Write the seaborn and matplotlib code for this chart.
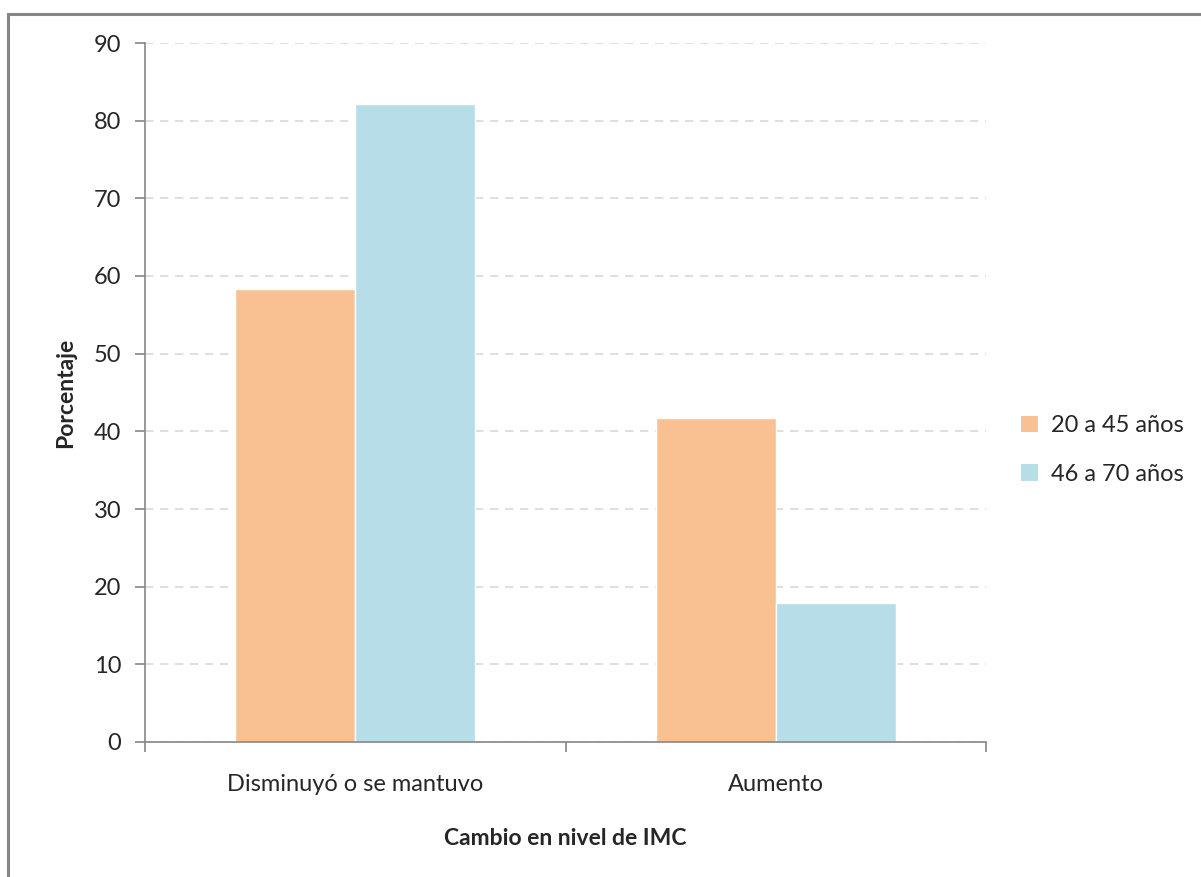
import matplotlib
matplotlib.use("Agg")
import matplotlib.pyplot as plt
import seaborn as sns
import pandas as pd
from matplotlib.patches import Rectangle, Patch

categories = ["Disminuyó o se mantuvo", "Aumento"]
groups = ["20 a 45 años", "46 a 70 años"]
values_20_45 = [58.3, 41.7]
values_46_70 = [82.1, 17.9]
yticks = [0, 10, 20, 30, 40, 50, 60, 70, 80, 90]

colors = ["#F9C192", "#B7DDE8"]

df = pd.DataFrame({
    "cat": categories * 2,
    "grupo": [groups[0]] * 2 + [groups[1]] * 2,
    "val": values_20_45 + values_46_70,
})

sns.set_theme(style="white")
plt.rcParams['font.family'] = ['Lato', 'DejaVu Sans']

fig = plt.figure(figsize=(12.01, 8.77), dpi=100)
ax = fig.add_axes([145/1201, 1-742/877, (986-145)/1201, (742-43)/877])

sns.barplot(data=df, x="cat", y="val", hue="grupo", palette=colors,
            width=0.571, ax=ax, legend=False, saturation=1)

ax.set_xlim(-0.5, 1.5)
ax.set_ylim(0, 90)
ax.set_yticks(yticks)
ax.set_yticklabels([str(t) for t in yticks], fontsize=17)
ax.yaxis.grid(True, linestyle=(0, (5, 4)), color="#D9D9D9", linewidth=1.2)
ax.set_axisbelow(True)

for s in ["top", "right"]:
    ax.spines[s].set_visible(False)
for s in ["left", "bottom"]:
    ax.spines[s].set_color("#868686")
    ax.spines[s].set_linewidth(1.2)

ax.set_xticks([-0.5, 0.5, 1.5])
ax.set_xticklabels([])
ax.set_xticks([0, 1], minor=True)
ax.set_xticklabels(categories, minor=True, fontsize=17)
ax.tick_params(axis="x", which="major", length=7, width=1.2, color="#868686", direction="out", bottom=True)
ax.tick_params(axis="x", which="minor", length=0, pad=23)
ax.tick_params(axis="y", length=7, width=1.2, color="#868686", direction="out", left=True, pad=10)

ax.set_xlabel("Cambio en nivel de IMC", fontsize=16.5, fontweight="bold", labelpad=24)
ax.set_ylabel("Porcentaje", fontsize=16.5, fontweight="bold", labelpad=13)

handles = [Patch(facecolor=c, edgecolor="none") for c in colors]
fig.legend(handles, groups, loc="center left", bbox_to_anchor=(1000/1201, 1-450/877),
           frameon=False, fontsize=17, handlelength=0.7, handleheight=0.7,
           labelspacing=1.15, handletextpad=0.55)

fig.patches.append(Rectangle((7.5/1201, -0.1), 1.2, 1.1 - 13.5/877 + 0.0,
                             transform=fig.transFigure, fill=False,
                             edgecolor="#868686", linewidth=2.2, figure=fig))

fig.savefig("out.png", dpi=100)
